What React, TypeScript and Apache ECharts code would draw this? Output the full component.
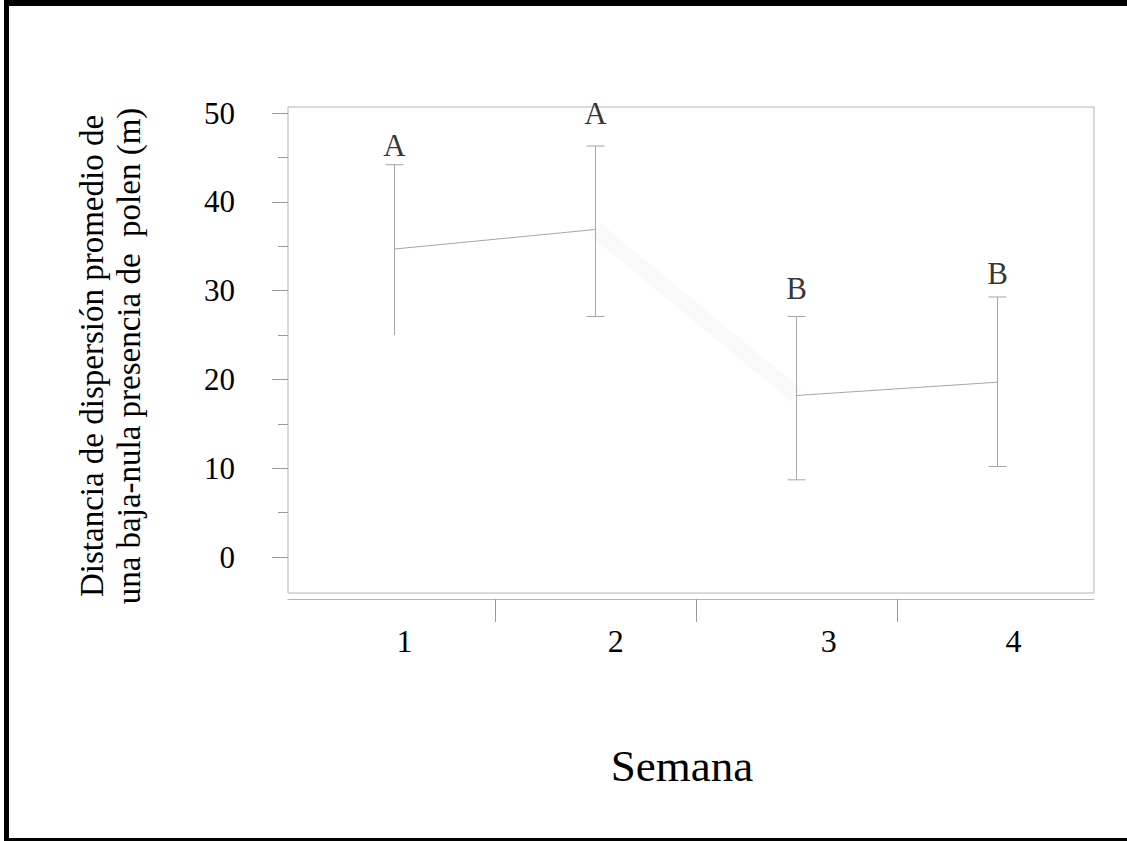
import React, { useEffect, useRef } from "react";
import * as echarts from "echarts";

// ---- data ----
const weeks = [1, 2, 3, 4];
const weekLabels = ["1", "2", "3", "4"];
const means = [34.7, 36.9, 18.2, 19.7];
const lows = [25.0, 27.1, 8.7, 10.2];
const highs = [44.2, 46.3, 27.1, 29.3];
const lowCaps = [false, true, true, true];
const letters = ["A", "A", "B", "B"];
const letterHeights = [46.4, 50.0, 30.3, 31.9];
const yTickLabels = [0, 10, 20, 30, 40, 50];
const yMinorTicks = [5, 15, 25, 35, 45];
const xBoundaryTicks = [1.5, 2.5, 3.5];
// where the week labels sit on the x scale in the reference (slightly off-centre)
const weekLabelPositions = [1.05, 2.1, 3.16, 4.08];

const FONT = "'Liberation Serif', 'Times New Roman', serif";
const GRAY = "#a6a6a6";

export default function App() {
  const ref = useRef<HTMLDivElement>(null);

  useEffect(() => {
    if (!ref.current) return;
    const chart = echarts.init(ref.current, undefined, { renderer: "svg" });

    const errData = weeks.map((w, i) => [w, lows[i], highs[i], lowCaps[i] ? 1 : 0]);

    const option: any = {
      animation: false,
      backgroundColor: "#ffffff",
      grid: {
        left: 288,
        top: 107,
        width: 806,
        height: 486,
        show: true,
        borderColor: "#b4b4b4",
        borderWidth: 1,
        backgroundColor: "transparent",
      },
      xAxis: {
        type: "value",
        min: 0.47,
        max: 4.48,
        offset: 6,
        axisLine: { show: true, onZero: false, lineStyle: { color: "#b4b4b4", width: 1 } },
        axisTick: {
          show: true,
          customValues: xBoundaryTicks,
          length: 23,
          lineStyle: { color: "#9a9a9a", width: 1 },
        },
        axisLabel: {
          customValues: weekLabelPositions,
          formatter: (v: number) => weekLabels[Math.round(v) - 1] ?? "",
          margin: 26,
          fontSize: 32,
          fontFamily: FONT,
          color: "#000",
        },
        splitLine: { show: false },
      },
      yAxis: [
        {
          type: "value",
          min: -4.05,
          max: 50.7,
          axisLine: { show: false },
          axisTick: {
            show: true,
            customValues: yTickLabels,
            length: 16,
            lineStyle: { color: "#9a9a9a", width: 1 },
          },
          axisLabel: {
            customValues: yTickLabels,
            margin: 53,
            fontSize: 31,
            fontFamily: FONT,
            color: "#000",
            padding: [0, 0, 6, 0],
          },
          splitLine: { show: false },
        },
        {
          type: "value",
          position: "left",
          min: -4.05,
          max: 50.7,
          axisLine: { show: false },
          axisTick: {
            show: true,
            customValues: yMinorTicks,
            length: 10,
            lineStyle: { color: "#9a9a9a", width: 1 },
          },
          axisLabel: { show: false },
          splitLine: { show: false },
        },
      ],
      series: [
        {
          type: "line",
          name: "faint 2-3",
          data: [
            [weeks[1], means[1]],
            [weeks[2], means[2]],
          ],
          symbol: "none",
          lineStyle: { color: "rgba(0,0,0,0.025)", width: 16 },
          z: 1,
        },
        {
          type: "line",
          name: "means 1-2",
          data: [
            [weeks[0], means[0]],
            [weeks[1], means[1]],
          ],
          symbol: "none",
          lineStyle: { color: GRAY, width: 1 },
          z: 2,
        },
        {
          type: "line",
          name: "means 3-4",
          data: [
            [weeks[2], means[2]],
            [weeks[3], means[3]],
          ],
          symbol: "none",
          lineStyle: { color: GRAY, width: 1 },
          z: 2,
        },
        {
          type: "custom",
          name: "error bars",
          data: errData,
          encode: { x: 0, y: [1, 2] },
          renderItem: (params: any, api: any) => {
            const x = api.value(0);
            const lo = api.coord([x, api.value(1)]);
            const hi = api.coord([x, api.value(2)]);
            const capLow = api.value(3) === 1;
            const half = 9;
            const style = { stroke: GRAY, lineWidth: 1 };
            const children: any[] = [
              { type: "line", shape: { x1: hi[0], y1: hi[1], x2: lo[0], y2: lo[1] }, style },
              { type: "line", shape: { x1: hi[0] - half, y1: hi[1], x2: hi[0] + half, y2: hi[1] }, style },
            ];
            if (capLow) {
              children.push({
                type: "line",
                shape: { x1: lo[0] - half, y1: lo[1], x2: lo[0] + half, y2: lo[1] },
                style,
              });
            }
            return { type: "group", children };
          },
          z: 3,
        },
        {
          type: "scatter",
          name: "letters",
          data: weeks.map((w, i) => [w, letterHeights[i]]),
          symbolSize: 1,
          itemStyle: { color: "transparent" },
          label: {
            show: true,
            position: "inside",
            formatter: (p: any) => letters[p.dataIndex],
            fontSize: 31,
            fontFamily: FONT,
            color: "#000",
            textBorderWidth: 0,
          },
          z: 4,
        },
      ],
      graphic: [
        { type: "rect", shape: { x: 4, y: 0, width: 5, height: 841 }, style: { fill: "#000" } },
        { type: "rect", shape: { x: 4, y: 0, width: 1123, height: 6 }, style: { fill: "#000" } },
        { type: "rect", shape: { x: 4, y: 838, width: 1123, height: 3 }, style: { fill: "#000" } },
        {
          type: "text",
          x: 110,
          y: 356,
          rotation: Math.PI / 2,
          style: {
            text: "Distancia de dispersión promedio de\nuna baja-nula presencia de  polen (m)",
            fontSize: 33,
            fontFamily: FONT,
            fill: "#000",
            align: "center",
            verticalAlign: "middle",
            lineHeight: 37,
          },
        },
        {
          type: "text",
          x: 682,
          y: 766,
          style: {
            text: "Semana",
            fontSize: 45,
            fontFamily: FONT,
            fill: "#000",
            align: "center",
            verticalAlign: "middle",
          },
        },
      ],
    };

    chart.setOption(option);
    return () => chart.dispose();
  }, []);

  return (
    <div
      ref={ref}
      style={{ position: "fixed", left: 0, top: 0, width: 1127, height: 841, background: "#fff" }}
    />
  );
}
